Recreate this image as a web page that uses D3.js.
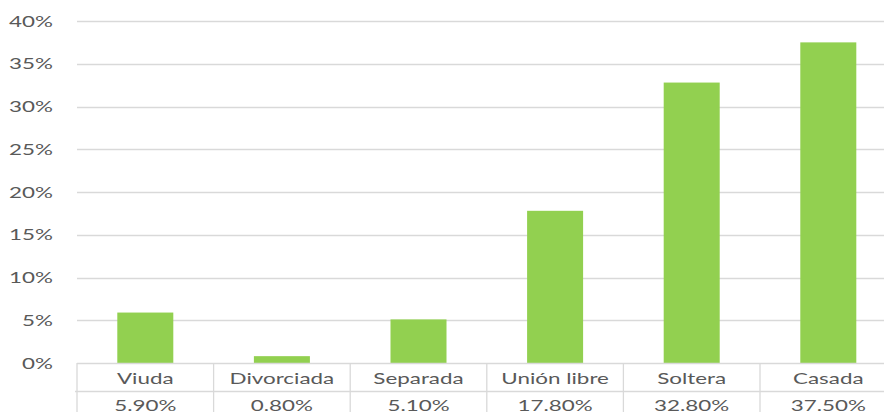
<!DOCTYPE html>
<html>
<head>
<meta charset="utf-8">
<script src="https://cdn.jsdelivr.net/npm/d3@7"></script>
<style>
  body { margin: 0; background: #fff; }
  svg text { font-family: Lato, "Open Sans", sans-serif; fill: #595959; }
</style>
</head>
<body>
<svg></svg>
<script>
const categories = ["Viuda", "Divorciada", "Separada", "Unión libre", "Soltera", "Casada"];
const values = [0.059, 0.008, 0.051, 0.178, 0.328, 0.375];
const yTicks = [0, 0.05, 0.10, 0.15, 0.20, 0.25, 0.30, 0.35, 0.40];

const svg_width = 884;
const svg_height = 412;
const plotLeft = 77;
const bandW = 136.6;
const stretch = 1.4; // reference text is drawn wide

const svg = d3.select("svg")
    .attr("width", svg_width)
    .attr("height", svg_height);

const xScale = d3.scaleBand()
    .domain(categories)
    .range([plotLeft, plotLeft + bandW * categories.length])
    .padding(0);

const yScale = d3.scaleLinear()
    .domain([0, 0.4])
    .range([363, 21]);

const pct = d3.format(".0%");
const pct2 = d3.format(".2%");

// gridlines
svg.append("g").selectAll("line")
    .data(yTicks.filter(d => d > 0))
    .enter()
    .append("line")
    .attr("x1", plotLeft)
    .attr("x2", svg_width)
    .attr("y1", d => Math.round(yScale(d)) + 0.5)
    .attr("y2", d => Math.round(yScale(d)) + 0.5)
    .attr("stroke", "#d9d9d9")
    .attr("stroke-width", 1.3);

// y labels
svg.append("g").selectAll("text")
    .data(yTicks)
    .enter()
    .append("text")
    .attr("transform", d => `translate(53, ${yScale(d)}) scale(${stretch}, 1)`)
    .attr("text-anchor", "end")
    .attr("dy", "0.35em")
    .style("font-size", "16px")
    .text(d => pct(d));

// bars
const barW = xScale.bandwidth() * 0.41;
svg.append("g").selectAll("rect")
    .data(values)
    .enter()
    .append("rect")
    .attr("x", (d, i) => xScale(categories[i]) + (xScale.bandwidth() - barW) / 2)
    .attr("width", barW)
    .attr("y", d => yScale(d))
    .attr("height", d => yScale(0) - yScale(d))
    .attr("fill", "#92d050");

// data table
const table = svg.append("g");
const x0 = xScale.range()[0];
const x1 = xScale.range()[1];
const rowY = [yScale(0), 391.5];

table.append("line")
    .attr("x1", x0).attr("x2", x1)
    .attr("y1", Math.round(rowY[0]) + 0.5).attr("y2", Math.round(rowY[0]) + 0.5)
    .attr("stroke", "#d9d9d9").attr("stroke-width", 1.3);
table.append("line")
    .attr("x1", x0 - 2).attr("x2", x1)
    .attr("y1", rowY[1]).attr("y2", rowY[1])
    .attr("stroke", "#d9d9d9").attr("stroke-width", 1.3);

table.selectAll(".vline")
    .data(categories.concat(["end"]))
    .enter()
    .append("line")
    .attr("class", "vline")
    .attr("x1", (d, i) => x0 + i * xScale.step())
    .attr("x2", (d, i) => x0 + i * xScale.step())
    .attr("y1", yScale(0))
    .attr("y2", svg_height + 10)
    .attr("stroke", "#d9d9d9")
    .attr("stroke-width", 1.3);

table.selectAll(".cat")
    .data(categories)
    .enter()
    .append("text")
    .attr("class", "cat")
    .attr("transform", d => `translate(${xScale(d) + xScale.bandwidth() / 2}, 378) scale(${stretch}, 1)`)
    .attr("text-anchor", "middle")
    .attr("dy", "0.35em")
    .style("font-size", "16px")
    .text(d => d);

// value row sits at the bottom edge, partly cut like the reference
table.selectAll(".val")
    .data(values)
    .enter()
    .append("text")
    .attr("class", "val")
    .attr("transform", (d, i) => `translate(${xScale(categories[i]) + xScale.bandwidth() / 2}, 405) scale(${stretch}, 1)`)
    .attr("text-anchor", "middle")
    .attr("dy", "0.35em")
    .style("font-size", "16px")
    .text(d => pct2(d));
</script>
</body>
</html>
